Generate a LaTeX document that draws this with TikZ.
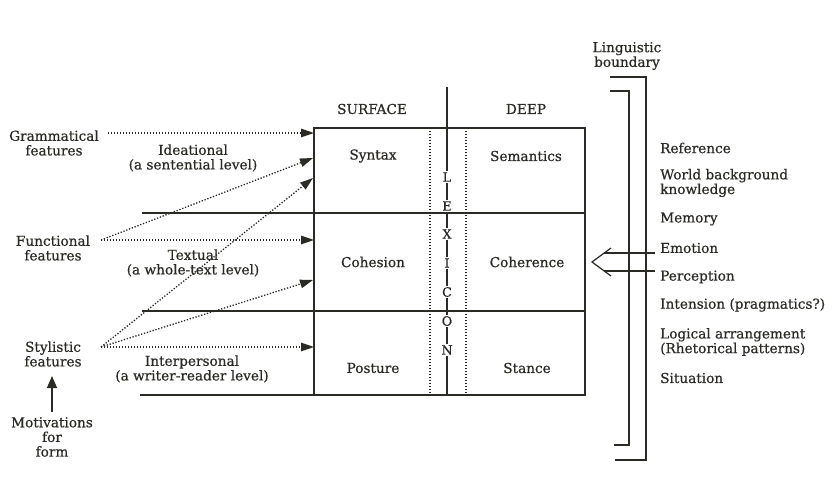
\documentclass[tikz,border=0pt]{standalone}
\usepackage{fontspec}
\setmainfont[FakeBold=0.5]{DejaVu Serif}
\usetikzlibrary{arrows.meta}
\definecolor{ink}{HTML}{2B2A25}
\begin{document}
\begin{tikzpicture}[x=1bp,y=-1bp,
  txt/.style={inner sep=0pt, align=center, font=\fontsize{13.7}{14.7}\selectfont, text=ink},
  rtxt/.style={txt, anchor=west, align=left},
  lex/.style={txt, fill=white, inner sep=1.2bp, font=\fontsize{12.8}{14}\selectfont},
  rule/.style={draw=ink, line width=1.2bp},
  dotline/.style={draw=ink, line width=1.3bp, dash pattern=on 1.3bp off 1.7bp},
  dotarrow/.style={dotline, -{Triangle[length=13bp,width=8.5bp]}},
  motarrow/.style={rule, -{Triangle[length=12bp,width=10bp]}}
]
\useasboundingbox (0,0) rectangle (836,486);
\fill[white] (0,0) rectangle (836,486);

% ---- grid / box
\draw[rule] (314,128) rectangle (585,395);
\draw[rule] (142,213) -- (585,213);
\draw[rule] (142,311) -- (585,311);
\draw[rule] (140,395) -- (314,395);
\draw[dotline] (430,128) -- (430,395);
\draw[dotline] (466,128) -- (466,395);
\draw[rule] (447,87) -- (447,395);

% LEXICON letters
\node[lex] (lL) at (447,177) {L};
\node[lex] (lE) at (447,206) {E};
\node[lex] (lX) at (447,234) {X};
\node[lex] (lI) at (447,263) {I};
\node[lex] (lC) at (447,292) {C};
\node[lex] (lO) at (447,321) {O};
\node[lex] (lN) at (447,350) {N};

% headings and cells
\node[txt] (surf) at (372,109) {SURFACE};
\node[txt] (deep) at (526,109) {DEEP};
\node[txt] (syn) at (373,156) {Syntax};
\node[txt] (sem) at (526,156) {Semantics};
\node[txt] (coh) at (373,262) {Cohesion};
\node[txt] (cohr) at (527,262) {Coherence};
\node[txt] (pos) at (373,368) {Posture};
\node[txt] (sta) at (527,368) {Stance};

% left labels
\node[txt] (gram) at (54,143) {Grammatical\\features};
\node[txt] (idea) at (193,158) {Ideational\\(a sentential level)};
\node[txt] (func) at (53,248) {Functional\\features};
\node[txt] (text) at (193,263) {Textual\\(a whole-text level)};
\node[txt] (styl) at (53,354) {Stylistic\\features};
\node[txt] (inter) at (192,369) {Interpersonal\\(a writer-reader level)};
\node[txt] (motiv) at (52,437) {Motivations\\for\\form};

% arrow anchors
\coordinate (gS) at (108,133);
\coordinate (fS) at (101,240);
\coordinate (sS) at (101,347);
\coordinate (t1) at (314,133);
\coordinate (t2) at (313,158);
\coordinate (t3) at (313,178);
\coordinate (t4) at (314,240);
\coordinate (t5) at (313,280);
\coordinate (t6) at (314,347);

\draw[dotarrow] (gS) -- (t1);
\draw[dotarrow] (fS) -- (t2);
\draw[dotarrow] (fS) -- (t4);
\draw[dotarrow] (sS) -- (t3);
\draw[dotarrow] (sS) -- (t5);
\draw[dotarrow] (sS) -- (t6);
\draw[motarrow] (motiv.north |- 0,412) -- (motiv.north |- 0,376);

% right side
\node[txt] (ling) at (627,56) {Linguistic\\boundary};
\draw[rule] (610,77) -- (646,77) -- (646,460) -- (615,460);
\draw[rule] (610,91) -- (629,91) -- (629,445) -- (614,445);

\node[rtxt] (ref) at (660,148) {Reference};
\node[rtxt] (world) at (660,183) {World background\\knowledge};
\node[rtxt] (mem) at (660,219) {Memory};
\node[rtxt] (emo) at (660,248) {Emotion};
\node[rtxt] (perc) at (660,277) {Perception};
\node[rtxt] (inten) at (660,305) {Intension (pragmatics?)};
\node[rtxt] (logic) at (660,342) {Logical arrangement\\(Rhetorical patterns)};
\node[rtxt] (sit) at (660,378) {Situation};

% double open arrow
\coordinate (dTip) at (592,262);
\draw[rule] (604,253) -- (655,253);
\draw[rule] (604,271) -- (655,271);
\draw[rule] (611,248) -- (dTip) -- (611,276);
\end{tikzpicture}
\end{document}
